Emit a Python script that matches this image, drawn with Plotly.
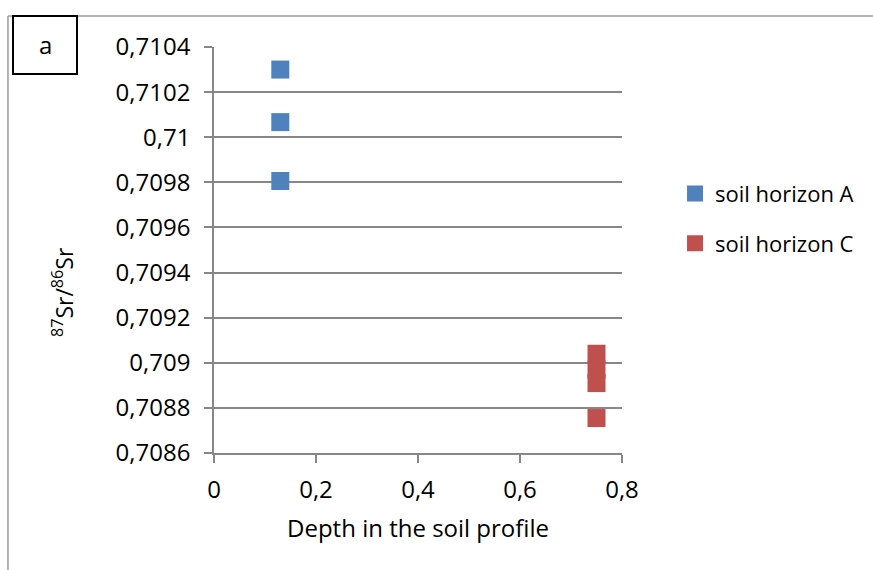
import plotly.graph_objects as go

# Sr isotope ratios by depth
depth_a = [0.13, 0.13, 0.13]
ratio_a = [0.71030, 0.710067, 0.709806]
depth_c = [0.75, 0.75, 0.75, 0.75]
ratio_c = [0.70904, 0.70897, 0.70891, 0.708755]

x_tickvals = [0, 0.2, 0.4, 0.6, 0.8]
x_ticktext = ["0", "0,2", "0,4", "0,6", "0,8"]
y_tickvals = [0.7086, 0.7088, 0.7090, 0.7092, 0.7094, 0.7096, 0.7098, 0.7100, 0.7102, 0.7104]
y_ticktext = ["0,7086", "0,7088", "0,709", "0,7092", "0,7094", "0,7096", "0,7098", "0,71", "0,7102", "0,7104"]

BLUE = "#4F81BD"
RED = "#C0504D"
GRID = "#878787"
FONT = "Open Sans"

fig = go.Figure()
fig.add_trace(go.Scatter(
    x=depth_a, y=ratio_a, mode="markers", name="soil horizon A",
    legendgroup="a",
    marker=dict(symbol="square", size=18, color=BLUE, line=dict(width=0)),
))
fig.add_trace(go.Scatter(
    x=depth_c, y=ratio_c, mode="markers", name="soil horizon C",
    legendgroup="c",
    marker=dict(symbol="square", size=18, color=RED, line=dict(width=0)),
))

fig.update_layout(
    width=873, height=570, autosize=False,
    margin=dict(l=214, r=251, t=47, b=117),
    paper_bgcolor="white", plot_bgcolor="white",
    font=dict(family=FONT, size=24, color="#000000"),
    showlegend=True,
    legend=dict(
        x=1.13, y=0.577, xanchor="left", yanchor="middle",
        font=dict(family=FONT, size=22),
        tracegroupgap=18, traceorder="grouped",
        itemwidth=30, bgcolor="rgba(0,0,0,0)",
    ),
    xaxis=dict(
        range=[0, 0.8], tickvals=x_tickvals, ticktext=x_ticktext,
        showgrid=False, zeroline=False,
        showline=True, linecolor=GRID, linewidth=1.5,
        ticks="outside", ticklen=8, tickcolor=GRID, tickwidth=1.5,
        tickfont=dict(family=FONT, size=24),
        ticklabelstandoff=6,
        title=dict(text="Depth in the soil profile", font=dict(family=FONT, size=24), standoff=17),
    ),
    yaxis=dict(
        range=[0.7086, 0.7104], tickvals=y_tickvals, ticktext=y_ticktext,
        showgrid=True, gridcolor=GRID, gridwidth=1.5,
        zeroline=False,
        showline=True, linecolor=GRID, linewidth=1.5,
        ticks="outside", ticklen=8, tickcolor=GRID, tickwidth=1.5,
        tickfont=dict(family=FONT, size=24),
        ticklabelstandoff=9,
    ),
)

# y-axis title, sitting a little below the axis midpoint
fig.add_annotation(text="<sup>87</sup>Sr/<sup>86</sup>Sr", xref="paper", yref="paper",
                   x=(63 - 214) / 408, y=(453 - 292) / 406,
                   xanchor="center", yanchor="middle", textangle=-90,
                   showarrow=False, font=dict(family=FONT, size=23))

# outer chart frame (top and left edges)
fig.add_shape(type="line", xref="paper", yref="paper",
              x0=-0.505, x1=1.7, y0=1.0764, y1=1.0764,
              line=dict(color="#9a9a9a", width=1.5), layer="below")
fig.add_shape(type="line", xref="paper", yref="paper",
              x0=-0.505, x1=-0.505, y0=1.0764, y1=-0.35,
              line=dict(color="#9a9a9a", width=1.5), layer="below")

# panel label box
fig.add_shape(type="rect", xref="paper", yref="paper",
              x0=(13 - 214) / 408, x1=(77 - 214) / 408,
              y0=(453 - 74) / 406, y1=(453 - 16) / 406,
              line=dict(color="black", width=2), fillcolor="white", layer="below")
fig.add_annotation(text="a", xref="paper", yref="paper",
                   x=(45 - 214) / 408, y=(453 - 44) / 406,
                   xanchor="center", yanchor="middle",
                   showarrow=False, font=dict(family=FONT, size=24))

fig.write_html("out.html")
